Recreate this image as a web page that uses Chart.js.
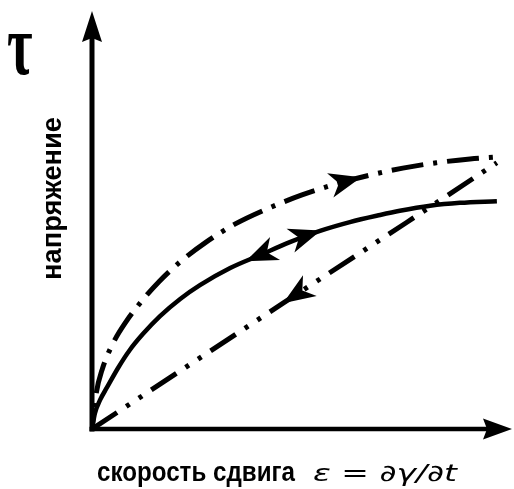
<!DOCTYPE html>
<html>
<head>
<meta charset="utf-8">
<script src="https://cdn.jsdelivr.net/npm/chart.js@4"></script>
<style>
html, body { margin: 0; padding: 0; background: #fff; }
canvas { display: block; }
</style>
</head>
<body>
<canvas id="chart" width="514" height="489"></canvas>
<script>
// shear rate (x) vs stress (y), both on a 0..100 scale
var flowX = [0, 0.7, 1.9, 3.6, 6.2, 9.0, 12.1, 16.2, 21.0, 25.7, 32.9, 40.0, 47.1, 54.3, 61.4, 68.6, 73.3, 80.5, 87.6, 96.4];
var flowY = [0, 3.8, 6.9, 10.0, 14.6, 18.9, 22.7, 27.0, 31.1, 34.4, 38.5, 41.6, 44.7, 47.4, 49.5, 51.2, 52.2, 53.4, 54.1, 54.5];

var upX = [0, 1, 2.5, 5, 8, 12, 16, 21, 27, 34, 42, 50, 58, 66, 74, 82, 90, 97.1];
var upY = [0, 8.5, 14.5, 20.5, 25.5, 30.8, 35.3, 40.0, 44.6, 49.0, 52.8, 56.0, 58.6, 60.7, 62.4, 63.7, 64.6, 65.1];

var downX = [0, 45.5, 74.9, 96.4];
var downY = [0, 30.1, 49.4, 63.7];

// arrow marks on the curves: dataset index, x of the tip, direction along the curve
var arrowCurve = [1, 0, 0, 2];
var arrowAt = [64.1, 54.5, 36.6, 45.5];
var arrowDir = [1, 1, -1, -1];

var axisTitleX = 'скорость сдвига';
var axisFormula = 'ε = ∂γ/∂t';
var axisTitleY = 'напряжение';
var axisSymbolY = 'τ';

function zip(xs, ys) {
    var out = [];
    for (let i = 0; i < xs.length; i++) out.push({ x: xs[i], y: ys[i] });
    return out;
}

function yAt(xs, ys, x) {
    for (let i = 1; i < xs.length; i++) {
        if (x <= xs[i]) {
            var t = (x - xs[i - 1]) / (xs[i] - xs[i - 1]);
            return ys[i - 1] + t * (ys[i] - ys[i - 1]);
        }
    }
    return ys[ys.length - 1];
}

function arrowHead(ctx, tx, ty, ux, uy, len, half, notch) {
    var nx = -uy, ny = ux;
    var bx = tx - ux * len, by = ty - uy * len;
    ctx.beginPath();
    ctx.moveTo(tx, ty);
    ctx.lineTo(bx + nx * half, by + ny * half);
    ctx.lineTo(tx - ux * (len - notch), ty - uy * (len - notch));
    ctx.lineTo(bx - nx * half, by - ny * half);
    ctx.closePath();
    ctx.fill();
}

function fitText(ctx, text, font, x, y, width) {
    ctx.font = font;
    var w = ctx.measureText(text).width;
    ctx.save();
    ctx.translate(x, y);
    ctx.scale(width / w, 1);
    ctx.fillText(text, 0, 0);
    ctx.restore();
}

var curveSets = [[flowX, flowY], [upX, upY], [downX, downY]];

var axesPlugin = {
    id: 'arrowAxes',
    beforeDatasetsDraw: function(chart) {
        var ctx = chart.ctx, xs = chart.scales.x, ys = chart.scales.y;
        var x0 = xs.getPixelForValue(0), y0 = ys.getPixelForValue(0);
        var top = chart.chartArea.top, right = chart.chartArea.right;
        ctx.save();
        ctx.strokeStyle = '#000';
        ctx.fillStyle = '#000';
        ctx.lineCap = 'butt';
        ctx.lineWidth = 5;
        ctx.beginPath();
        ctx.moveTo(x0, y0 + 2.5);
        ctx.lineTo(x0, top + 20);
        ctx.stroke();
        ctx.lineWidth = 4.5;
        ctx.beginPath();
        ctx.moveTo(x0 - 2.5, y0);
        ctx.lineTo(right - 20, y0);
        ctx.stroke();
        arrowHead(ctx, x0, top, 0, -1, 31, 10, 4);
        arrowHead(ctx, right, y0, 1, 0, 29, 10.5, 4);
        ctx.restore();
    },
    afterDatasetsDraw: function(chart) {
        var ctx = chart.ctx, xs = chart.scales.x, ys = chart.scales.y;
        ctx.save();
        ctx.fillStyle = '#000';
        for (let i = 0; i < arrowAt.length; i++) {
            var set = curveSets[arrowCurve[i]];
            var a = arrowAt[i];
            var tx = xs.getPixelForValue(a), ty = ys.getPixelForValue(yAt(set[0], set[1], a));
            var px = xs.getPixelForValue(a - 2), py = ys.getPixelForValue(yAt(set[0], set[1], a - 2));
            var qx = xs.getPixelForValue(a + 2), qy = ys.getPixelForValue(yAt(set[0], set[1], a + 2));
            var dx = (qx - px) * arrowDir[i], dy = (qy - py) * arrowDir[i];
            var d = Math.sqrt(dx * dx + dy * dy);
            arrowHead(ctx, tx, ty, dx / d, dy / d, 32, 12.5, 9);
        }
        ctx.restore();
    },
    afterDraw: function(chart) {
        var ctx = chart.ctx;
        ctx.save();
        ctx.fillStyle = '#000';
        ctx.textAlign = 'left';
        ctx.textBaseline = 'alphabetic';

        // tau symbol, stretched into its box
        ctx.font = 'bold 60px "Liberation Serif"';
        var m = ctx.measureText(axisSymbolY);
        var bw = m.actualBoundingBoxLeft + m.actualBoundingBoxRight;
        var bh = m.actualBoundingBoxAscent + m.actualBoundingBoxDescent;
        var sx = 24 / bw, sy = 40 / bh;
        ctx.save();
        ctx.translate(8 + m.actualBoundingBoxLeft * sx, 35 + m.actualBoundingBoxAscent * sy);
        ctx.scale(sx, sy);
        ctx.fillText(axisSymbolY, 0, 0);
        ctx.restore();

        // vertical title
        ctx.save();
        ctx.translate(61, 280);
        ctx.rotate(-Math.PI / 2);
        fitText(ctx, axisTitleY, 'bold 27px "Liberation Sans"', 0, 0, 163);
        ctx.restore();

        // bottom title and formula
        fitText(ctx, axisTitleX, 'bold 27px "Liberation Sans"', 97, 481, 198);
        fitText(ctx, axisFormula, 'italic 23px "DejaVu Sans"', 313, 481, 144);
        ctx.restore();
    }
};

var ctx = document.getElementById('chart').getContext('2d');
var chart = new Chart(ctx, {
    type: 'line',
    data: {
        datasets: [{
            data: zip(flowX, flowY),
            borderColor: '#000',
            borderWidth: 4.5,
            cubicInterpolationMode: 'monotone',
            pointRadius: 0,
            fill: false
        }, {
            data: zip(upX, upY),
            borderColor: '#000',
            borderWidth: 5,
            borderDash: [32, 10, 4, 10],
            borderDashOffset: 20,
            cubicInterpolationMode: 'monotone',
            pointRadius: 0,
            fill: false
        }, {
            data: zip(downX, downY),
            borderColor: '#000',
            borderWidth: 5,
            borderDash: [30, 11, 4, 11, 4, 11],
            tension: 0,
            pointRadius: 0,
            fill: false
        }]
    },
    options: {
        responsive: false,
        animation: false,
        devicePixelRatio: 1,
        layout: {
            padding: { left: 92, top: 11, right: 2, bottom: 60 }
        },
        scales: {
            x: { type: 'linear', min: 0, max: 100, display: false },
            y: { type: 'linear', min: 0, max: 100, display: false }
        },
        plugins: {
            legend: { display: false },
            tooltip: { enabled: false }
        }
    },
    plugins: [axesPlugin]
});
</script>
</body>
</html>
